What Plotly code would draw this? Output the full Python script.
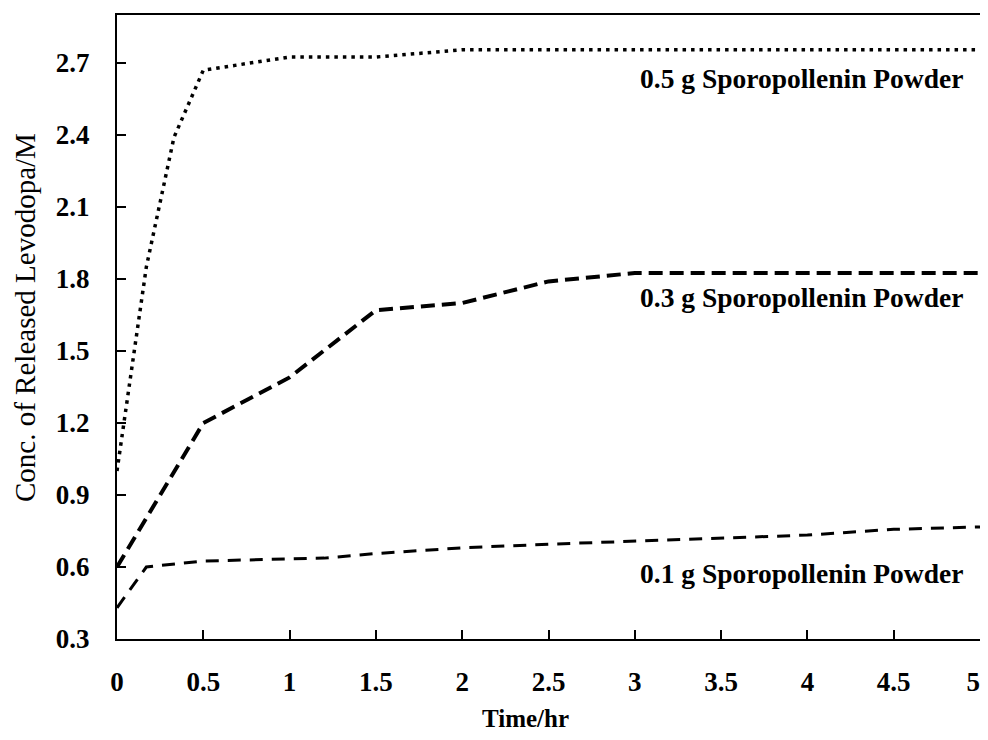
import plotly.graph_objects as go

# Data
time_05 = [0, 0.17, 0.33, 0.5, 1.0, 1.5, 2.0, 2.5, 3.0, 3.5, 4.0, 4.5, 5.0]
conc_05 = [1.0, 1.85, 2.39, 2.67, 2.725, 2.725, 2.755, 2.755, 2.755, 2.755, 2.755, 2.755, 2.755]

time_03 = [0, 0.5, 1.0, 1.5, 2.0, 2.5, 3.0, 3.5, 4.0, 4.5, 5.0]
conc_03 = [0.6, 1.2, 1.39, 1.67, 1.70, 1.79, 1.825, 1.825, 1.825, 1.825, 1.825]

time_01 = [0, 0.17, 0.5, 1.0, 1.2, 1.5, 2.0, 2.5, 3.0, 3.5, 4.0, 4.5, 5.0]
conc_01 = [0.43, 0.60, 0.625, 0.633, 0.637, 0.656, 0.68, 0.695, 0.708, 0.72, 0.733, 0.757, 0.767]

labels = ["0.5 g Sporopollenin Powder", "0.3 g Sporopollenin Powder", "0.1 g Sporopollenin Powder"]
label_y = [2.635, 1.725, 0.575]

x_ticks = [0, 0.5, 1, 1.5, 2, 2.5, 3, 3.5, 4, 4.5, 5]
y_ticks = [0.3, 0.6, 0.9, 1.2, 1.5, 1.8, 2.1, 2.4, 2.7]

FONT = "Liberation Serif"
OFF = 8  # default page body margin
W, H = 988 - 2 * OFF, 740 - 2 * OFF
ML, MR, MT, MB = 117 - OFF, 0, 15 - OFF, 93
PW, PH = W - ML - MR, H - MT - MB

fig = go.Figure()
fig.add_trace(go.Scatter(x=time_05, y=conc_05, mode="lines",
                         line=dict(color="black", width=3.5, dash="3.5px,5px"),
                         showlegend=False))
fig.add_trace(go.Scatter(x=time_03, y=conc_03, mode="lines",
                         line=dict(color="black", width=4, dash="14px,7px"),
                         showlegend=False))
fig.add_trace(go.Scatter(x=time_01, y=conc_01, mode="lines",
                         line=dict(color="black", width=3, dash="13px,9px"),
                         showlegend=False))

for txt, yy in zip(labels, label_y):
    fig.add_annotation(x=4.915, y=yy, xref="x", yref="y", text="<b>" + txt + "</b>",
                       showarrow=False, xanchor="right", yanchor="middle",
                       font=dict(family=FONT, size=27.5, color="black"))

# x-axis title (page pixel centre 525, 718)
fig.add_annotation(x=(525 - OFF - ML) / PW, y=-(718 - OFF - (MT + PH)) / PH, xref="paper", yref="paper",
                   text="<b>Time/hr</b>", showarrow=False, xanchor="center", yanchor="middle",
                   font=dict(family=FONT, size=25, color="black"))
# y-axis title (page pixel centre 25, 318)
fig.add_annotation(x=-(ML - (25 - OFF)) / PW, y=(MT + PH - (318 - OFF)) / PH, xref="paper", yref="paper",
                   text="Conc. of Released Levodopa/M", textangle=-90, showarrow=False,
                   xanchor="center", yanchor="middle",
                   font=dict(family=FONT, size=29, color="black"))

# last x label padded so its glyph stays inside the page edge
x_ticktext = [f"<b>{v:g}</b>" for v in x_ticks]
x_ticktext[-1] = "<b>5&nbsp;&nbsp;</b>"

fig.update_layout(
    width=W, height=H,
    margin=dict(l=ML, r=MR, t=MT, b=MB),
    paper_bgcolor="white", plot_bgcolor="white",
    font=dict(family=FONT, color="black"),
    xaxis=dict(range=[0, 5], tickvals=x_ticks, ticktext=x_ticktext,
               ticks="inside", ticklen=9, tickwidth=2, tickcolor="black",
               showline=True, linecolor="black", linewidth=2, mirror=True,
               showgrid=False, zeroline=False, ticklabelstandoff=18, automargin=False,
               ticklabeloverflow="allow",
               tickfont=dict(family=FONT, size=27, color="black")),
    yaxis=dict(range=[0.3, 2.9], tickvals=y_ticks, ticktext=[f"<b>{v:.1f}</b>" for v in y_ticks],
               ticks="inside", ticklen=9, tickwidth=2, tickcolor="black",
               showline=True, linecolor="black", linewidth=2, mirror=True,
               showgrid=False, zeroline=False, ticklabelstandoff=20, automargin=False,
               tickfont=dict(family=FONT, size=27, color="black")),
)

fig.write_html("out.html")
